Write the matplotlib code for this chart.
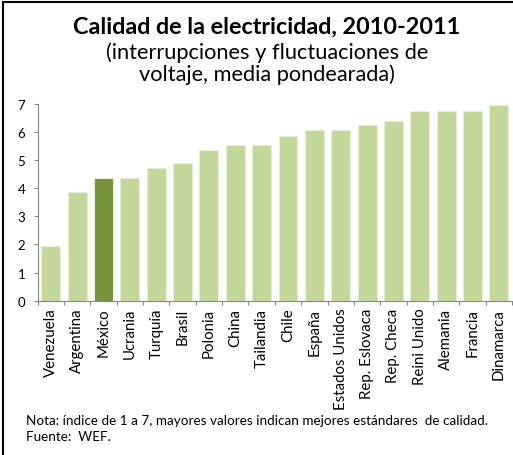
import matplotlib
matplotlib.use("Agg")
import matplotlib.pyplot as plt
from matplotlib.lines import Line2D

paises = ["Venezuela", "Argentina", "México", "Ucrania", "Turquía", "Brasil",
          "Polonia", "China", "Tailandia", "Chile", "España", "Estados Unidos",
          "Rep. Eslovaca", "Rep. Checa", "Reini Unido", "Alemania", "Francia",
          "Dinamarca"]
valores = [1.95, 3.85, 4.35, 4.35, 4.7, 4.9, 5.35, 5.55, 5.55, 5.85, 6.05,
           6.05, 6.25, 6.4, 6.75, 6.75, 6.75, 6.95]
destacado = "México"

verde_claro = "#c4d79b"
verde_oscuro = "#77933c"

plt.rcParams["font.family"] = ["Lato", "DejaVu Sans"]

fig = plt.figure(figsize=(5.13, 4.56), dpi=100)
ax = fig.add_axes([0.0735, 0.3384, 0.9245, 0.432])

colores = [verde_oscuro if p == destacado else verde_claro for p in paises]
x = range(len(paises))
ax.bar(x, valores, width=0.72, color=colores, edgecolor="#e4eed2", linewidth=0.8)

ax.set_xlim(-0.5, len(paises) - 0.5)
ax.set_ylim(0, 7)
ax.set_yticks(range(0, 8))
ax.tick_params(axis="y", labelsize=9.5, length=3, color="#868686", pad=6)
ax.set_xticks([i - 0.5 for i in range(len(paises) + 1)], minor=False)
ax.set_xticklabels([])
ax.set_xticks(list(x), minor=True)
ax.set_xticklabels(paises, minor=True, rotation=90, fontsize=10.8, va="top")
ax.tick_params(axis="x", which="major", length=3, color="#868686")
ax.tick_params(axis="x", which="minor", length=0, pad=5)

for s in ["top", "right"]:
    ax.spines[s].set_visible(False)
for s in ["left", "bottom"]:
    ax.spines[s].set_color("#868686")

fig.text(0.52, 0.94, "Calidad de la electricidad, 2010-2011", ha="center",
         va="center", fontsize=16.8, fontweight="bold")
fig.text(0.52, 0.884, "(interrupciones y fluctuaciones de", ha="center",
         va="center", fontsize=15.7)
fig.text(0.52, 0.836, "voltaje, media pondearada)", ha="center",
         va="center", fontsize=15.7)

fig.text(0.05, 0.077, "Nota: índice de 1 a 7, mayores valores indican mejores estándares  de calidad.",
         ha="left", va="center", fontsize=9.7)
fig.text(0.05, 0.042, "Fuente:  WEF.", ha="left", va="center", fontsize=9.7)

# marco exterior
fig.add_artist(Line2D([0.0068, 0.0068], [0, 0.993], color="black", lw=1.5,
                      transform=fig.transFigure))
fig.add_artist(Line2D([0.0068, 1], [0.993, 0.993], color="black", lw=1.5,
                      transform=fig.transFigure))

fig.savefig("out.png", dpi=100)
